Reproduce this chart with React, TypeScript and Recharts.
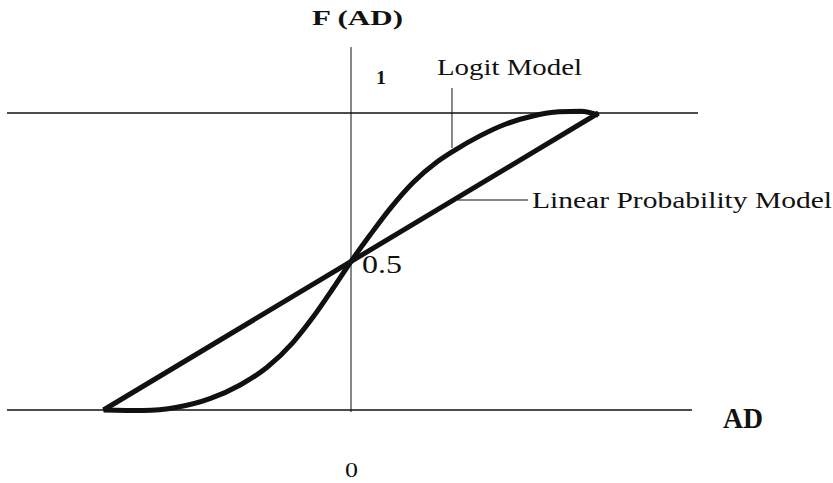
import React from "react";
import { ComposedChart, Line, XAxis, YAxis, ReferenceLine, Customized } from "recharts";

// Linear probability model: straight line from (−1, 0) to (1, 1)
const linearData = [
  { x: -1, y: 0 },
  { x: 1, y: 1 },
];

// Logit model: S-shaped curve
const logitX = [-1.0, -0.84, -0.703, -0.57, -0.448, -0.339, -0.234, -0.154, -0.073, 0, 0.077, 0.158, 0.251, 0.347, 0.412, 0.521, 0.626, 0.735, 0.84, 0.929, 1.0];
const logitY = [0.0, -0.002, 0.009, 0.038, 0.084, 0.144, 0.228, 0.312, 0.409, 0.5, 0.589, 0.678, 0.766, 0.835, 0.871, 0.923, 0.963, 0.99, 1.004, 1.006, 0.993];
const logitData = logitX.map((x, i) => ({ x, y: logitY[i] }));

const labels = {
  yTitle: "F (AD)",
  xTitle: "AD",
  one: "1",
  half: "0.5",
  zero: "0",
  logit: "Logit Model",
  linear: "Linear Probability Model",
};

const W = 833;
const H = 483;
const FONT = '"Liberation Serif", "Times New Roman", Times, serif';

const T = (p: any) => (
  <text
    x={p.x}
    y={p.y}
    textLength={p.len}
    lengthAdjust="spacingAndGlyphs"
    style={{ fontFamily: FONT, fontSize: p.size, fontWeight: p.bold ? 700 : 400, fill: "#111" }}
  >
    {p.children}
  </text>
);

const Labels = () => (
  <g>
    <T x={312} y={25} size={22} bold len={91}>{labels.yTitle}</T>
    <T x={376} y={84} size={18} bold len={10}>{labels.one}</T>
    <T x={437} y={75} size={24} len={145}>{labels.logit}</T>
    <T x={532} y={208} size={23} len={300}>{labels.linear}</T>
    <T x={362} y={273} size={26} len={40}>{labels.half}</T>
    <T x={723} y={428} size={29} bold len={40}>{labels.xTitle}</T>
    <T x={345} y={477} size={22} len={13}>{labels.zero}</T>
  </g>
);

export default function App() {
  return (
    <div style={{ position: "absolute", left: 0, top: 0, width: W, height: H, background: "#fff" }}>
      <ComposedChart
        width={W}
        height={H}
        margin={{ left: 4.5, right: 135.5, top: 38.75, bottom: 43.3 }}
      >
        <XAxis type="number" dataKey="x" domain={[-1.4, 1.4]} hide allowDataOverflow />
        <YAxis type="number" dataKey="y" domain={[-0.1, 1.25]} hide allowDataOverflow />
        <ReferenceLine segment={[{ x: -1.39, y: 1 }, { x: 1.402, y: 1 }]} stroke="#111" strokeWidth={1.5} ifOverflow="visible" />
        <ReferenceLine segment={[{ x: -1.39, y: 0 }, { x: 1.378, y: 0 }]} stroke="#111" strokeWidth={1.5} ifOverflow="visible" />
        <ReferenceLine segment={[{ x: 0, y: 1.222 }, { x: 0, y: -0.007 }]} stroke="#111" strokeWidth={1} ifOverflow="visible" />
        <ReferenceLine segment={[{ x: 0.408, y: 1.084 }, { x: 0.408, y: 0.882 }]} stroke="#111" strokeWidth={1} ifOverflow="visible" />
        <ReferenceLine segment={[{ x: 0.432, y: 0.707 }, { x: 0.715, y: 0.707 }]} stroke="#111" strokeWidth={1.2} ifOverflow="visible" />
        <Line data={linearData} dataKey="y" type="linear" stroke="#111" strokeWidth={5} dot={false} isAnimationActive={false} strokeLinejoin="round" />
        <Line data={logitData} dataKey="y" type="monotone" stroke="#111" strokeWidth={5} dot={false} isAnimationActive={false} strokeLinejoin="round" />
        <Customized component={Labels} />
      </ComposedChart>
    </div>
  );
}
